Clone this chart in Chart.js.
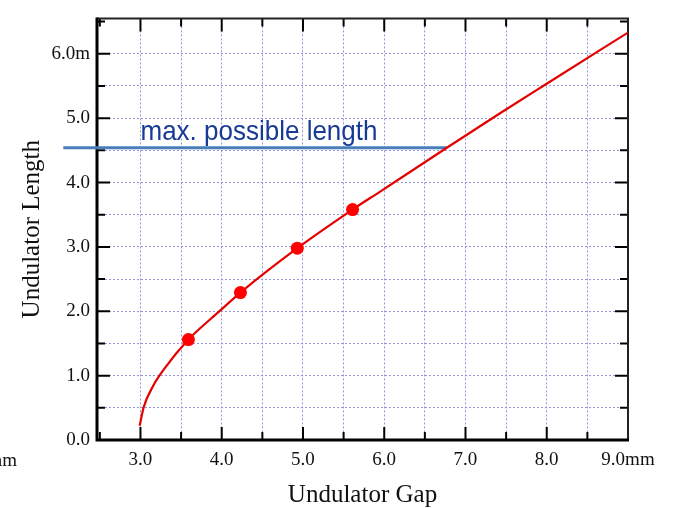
<!DOCTYPE html>
<html><head><meta charset="utf-8">
<script src="https://cdn.jsdelivr.net/npm/chart.js@4/dist/chart.umd.min.js"></script>
<style>html,body{margin:0;padding:0;background:#fff;overflow:hidden}#wrap{width:673px;height:508px}</style>
</head><body><div id="wrap"><canvas id="c" width="673" height="508"></canvas></div>
<script>
// ---- data ----
const gapValues    = [2.99, 3.04, 3.16, 3.29, 3.59, 3.98, 4.23, 4.93, 5.61, 5.95, 6.77, 7.43, 7.98, 9.00];
const lengthValues = [0.22, 0.51, 0.85, 1.10, 1.56, 2.01, 2.29, 2.98, 3.58, 3.86, 4.54, 5.08, 5.52, 6.33];
const markerGaps    = [3.59, 4.23, 4.93, 5.61];
const markerLengths = [1.56, 2.29, 2.98, 3.58];
const maxLengthGaps  = [2.05, 6.77];
const maxLengthValue = 4.54;
const maxLengthLabel = 'max. possible length';
const xTickValues = [3, 4, 5, 6, 7, 8, 9];
const xTickLabels = ['3.0', '4.0', '5.0', '6.0', '7.0', '8.0', '9.0mm'];
const yTickValues = [0, 1, 2, 3, 4, 5, 6];
const yTickLabels = ['0.0', '1.0', '2.0', '3.0', '4.0', '5.0', '6.0m'];
const xTitle = 'Undulator Gap';
const yTitle = 'Undulator Length';
const cutLabel = 'mm';

const SERIF = '"Liberation Serif", "Times New Roman", serif';
const GRID = '#9494d6';

function labelFor(values, labels, v) {
  const i = values.findIndex(t => Math.abs(t - v) < 1e-6);
  return i >= 0 ? labels[i] : '';
}

const framePlugin = {
  id: 'frame',
  beforeDatasetsDraw(chart) {
    const {ctx, chartArea: a, scales: {x, y}} = chart;
    ctx.save();
    ctx.strokeStyle = '#000';
    ctx.lineWidth = 2;
    ctx.lineCap = 'butt';
    x.ticks.forEach(t => {
      const px = x.getPixelForValue(t.value);
      const len = Math.abs(t.value - Math.round(t.value)) < 1e-6 ? 13 : 8;
      ctx.beginPath();
      ctx.moveTo(px, a.bottom); ctx.lineTo(px, a.bottom - len);
      ctx.moveTo(px, a.top); ctx.lineTo(px, a.top + len);
      ctx.stroke();
    });
    y.ticks.forEach(t => {
      const py = y.getPixelForValue(t.value);
      const len = Math.abs(t.value - Math.round(t.value)) < 1e-6 ? 13 : 8;
      ctx.beginPath();
      ctx.moveTo(a.left, py); ctx.lineTo(a.left + len, py);
      ctx.moveTo(a.right, py); ctx.lineTo(a.right - len, py);
      ctx.stroke();
    });
    ctx.lineWidth = 2;
    ctx.strokeStyle = '#222';
    ctx.beginPath();
    ctx.moveTo(a.left, a.top); ctx.lineTo(a.right, a.top); ctx.lineTo(a.right, a.bottom);
    ctx.stroke();
    ctx.lineWidth = 3;
    ctx.strokeStyle = '#000';
    ctx.beginPath();
    ctx.moveTo(a.left, a.top - 1); ctx.lineTo(a.left, a.bottom); ctx.lineTo(a.right + 1, a.bottom);
    ctx.stroke();
    ctx.restore();
  },
  afterDatasetsDraw(chart) {
    const {ctx, scales: {x, y}} = chart;
    ctx.save();
    ctx.font = '28px "Liberation Sans", Arial, sans-serif';
    ctx.fillStyle = '#173a96';
    ctx.textBaseline = 'alphabetic';
    ctx.textAlign = 'left';
    const tx = x.getPixelForValue(3.0), ty = y.getPixelForValue(maxLengthValue) - 8;
    const w = ctx.measureText(maxLengthLabel).width;
    ctx.translate(tx, ty);
    ctx.scale(237 / w, 1);
    ctx.fillText(maxLengthLabel, 0, 0);
    ctx.restore();
    ctx.save();
    ctx.font = '19px ' + SERIF;
    ctx.fillStyle = '#111';
    ctx.textAlign = 'right';
    ctx.textBaseline = 'middle';
    ctx.fillText(cutLabel, 17, x.top + 21);
    ctx.restore();
  }
};

new Chart(document.getElementById('c'), {
  type: 'scatter',
  data: {
    datasets: [
      {
        label: 'markers',
        data: markerGaps.map((g, i) => ({x: g, y: markerLengths[i]})),
        pointRadius: 6.5, pointHoverRadius: 6.5,
        backgroundColor: '#ff0000', borderWidth: 0,
        showLine: false, order: 0
      },
      {
        label: 'length',
        data: gapValues.map((g, i) => ({x: g, y: lengthValues[i]})),
        showLine: true, borderColor: '#e50000', borderWidth: 2.2,
        pointRadius: 0, tension: 0.4, cubicInterpolationMode: 'monotone',
        order: 1
      },
      {
        label: 'max',
        data: maxLengthGaps.map(g => ({x: g, y: maxLengthValue})),
        showLine: true, borderColor: '#4a7ebb', borderWidth: 3,
        pointRadius: 0, clip: false, order: 2
      }
    ]
  },
  options: {
    responsive: false, animation: false, devicePixelRatio: 1,
    layout: {padding: {top: 14, right: 45, left: 0, bottom: 0}},
    plugins: {legend: {display: false}, tooltip: {enabled: false}},
    events: [],
    scales: {
      x: {
        type: 'linear', min: 2.465, max: 9.0,
        afterFit(s) { s.height = 68; },
        ticks: {
          stepSize: 0.5, includeBounds: false, autoSkip: false, maxRotation: 0,
          padding: 9, color: '#111', font: {family: SERIF, size: 19},
          callback: v => labelFor(xTickValues, xTickLabels, v)
        },
        grid: {
          drawTicks: false, lineWidth: 1,
          color: c => (c.tick && (c.tick.value < 2.9 || c.tick.value > 8.9)) ? 'rgba(0,0,0,0)' : GRID
        },
        border: {display: false, dash: [2, 2]},
        title: {display: true, text: xTitle, color: '#111', font: {family: SERIF, size: 25, lineHeight: 1.0}, padding: {top: 0, bottom: 0}}
      },
      y: {
        type: 'linear', min: 0, max: 6.55,
        afterFit(s) { s.width = 97; },
        ticks: {
          stepSize: 0.5, includeBounds: false, autoSkip: false,
          padding: 7, color: '#111', font: {family: SERIF, size: 19},
          callback: v => labelFor(yTickValues, yTickLabels, v)
        },
        grid: {
          drawTicks: false, lineWidth: 1,
          color: c => (c.tick && (c.tick.value < 0.1 || c.tick.value > 6.4)) ? 'rgba(0,0,0,0)' : GRID
        },
        border: {display: false, dash: [2, 2]},
        title: {display: true, text: yTitle, color: '#111', font: {family: SERIF, size: 25}, padding: {top: 17, bottom: 0}}
      }
    }
  },
  plugins: [framePlugin]
});
</script>
</body></html>
